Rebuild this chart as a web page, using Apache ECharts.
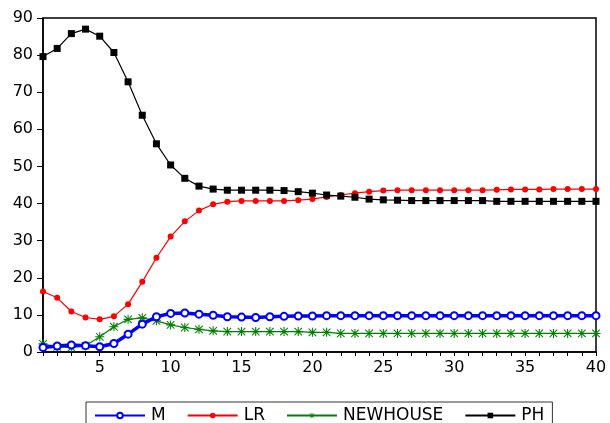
<!DOCTYPE html>
<html>
<head>
<meta charset="utf-8">
<script src="https://cdn.jsdelivr.net/npm/echarts@6/dist/echarts.min.js"></script>
<style>
html,body{margin:0;padding:0;background:#fff;}
#chart{width:610px;height:423px;}
</style>
</head>
<body>
<div id="chart"></div>
<script>
const periods = Array.from({length: 40}, (_, i) => String(i + 1));
const M = [1.2, 1.6, 1.9, 1.7, 1.4, 2.3, 4.8, 7.5, 9.5, 10.4, 10.5, 10.2, 9.9, 9.5, 9.4, 9.3, 9.5, 9.6, 9.7, 9.7,
  9.8, 9.8, 9.8, 9.8, 9.8, 9.8, 9.8, 9.8, 9.8, 9.8, 9.8, 9.8, 9.8, 9.8, 9.8, 9.8, 9.8, 9.8, 9.8, 9.8];
const LR = [16.3, 14.6, 10.9, 9.3, 8.8, 9.6, 12.9, 18.9, 25.4, 31.1, 35.2, 38.1, 39.8, 40.5, 40.7, 40.7, 40.7, 40.7, 40.9, 41.2,
  41.8, 42.3, 42.8, 43.2, 43.5, 43.6, 43.6, 43.6, 43.6, 43.6, 43.6, 43.6, 43.7, 43.8, 43.8, 43.8, 43.9, 43.9, 43.9, 43.9];
const NEWHOUSE = [2.2, 1.4, 1.2, 1.7, 4.1, 6.8, 8.8, 9.2, 8.4, 7.3, 6.6, 6.1, 5.7, 5.5, 5.5, 5.5, 5.5, 5.5, 5.5, 5.3,
  5.3, 5.0, 5.0, 5.0, 5.0, 5.0, 5.0, 5.0, 5.0, 5.0, 5.0, 5.0, 5.0, 5.0, 5.0, 5.0, 5.0, 5.0, 5.0, 5.0];
const PH = [79.6, 81.8, 85.8, 87.0, 85.1, 80.7, 72.8, 63.8, 56.1, 50.4, 46.8, 44.7, 43.9, 43.6, 43.6, 43.6, 43.6, 43.5, 43.2, 42.8,
  42.3, 42.0, 41.7, 41.2, 41.0, 40.9, 40.8, 40.8, 40.8, 40.8, 40.8, 40.8, 40.6, 40.6, 40.6, 40.6, 40.6, 40.6, 40.6, 40.6];
const yTicks = [0, 10, 20, 30, 40, 50, 60, 70, 80, 90];

const FONT = 'DejaVu Sans';
const asterisk = 'path://M4.4,0 L5.6,0 L5.6,10 L4.4,10 Z M0,4.4 L10,4.4 L10,5.6 L0,5.6 Z M1.2,0.4 L9.6,8.8 L8.8,9.6 L0.4,1.2 Z M8.8,0.4 L9.6,1.2 L1.2,9.6 L0.4,8.8 Z';

const chart = echarts.init(document.getElementById('chart'), null, {renderer: 'canvas'});
chart.setOption({
  animation: false,
  backgroundColor: '#fff',
  grid: {left: 43, right: 14, top: 18, bottom: 71, show: true, borderColor: '#000', borderWidth: 1.5, backgroundColor: 'transparent'},
  xAxis: {
    type: 'category',
    data: periods,
    boundaryGap: false,
    axisLine: {lineStyle: {color: '#000', width: 1.5}},
    axisTick: {show: true, interval: 0, length: 4, lineStyle: {color: '#000', width: 1}},
    axisLabel: {
      interval: (i, v) => Number(v) % 5 === 0,
      color: '#000', fontFamily: FONT, fontSize: 16, margin: 8
    },
    splitLine: {show: false}
  },
  yAxis: {
    type: 'value',
    min: yTicks[0], max: yTicks[yTicks.length - 1], interval: 10,
    axisLine: {show: true, lineStyle: {color: '#000', width: 1.5}},
    axisTick: {show: true, length: 6, lineStyle: {color: '#000', width: 1}},
    axisLabel: {color: '#000', fontFamily: FONT, fontSize: 16, margin: 10},
    splitLine: {show: false}
  },
  legend: {
    left: 86, top: 402,
    padding: [5, 8, 10, 8],
    borderColor: '#333', borderWidth: 1,
    itemWidth: 50, itemHeight: 7, itemGap: 21,
    textStyle: {color: '#000', fontFamily: FONT, fontSize: 17, padding: [0, 0, 0, 1]},
    data: ['M', 'LR', 'NEWHOUSE', 'PH']
  },
  series: [
    {name: 'M', type: 'line', data: M, symbol: 'emptyCircle', symbolSize: 7, showAllSymbol: true,
      lineStyle: {color: '#0000ff', width: 3.5}, itemStyle: {color: '#0000ff', borderWidth: 1.6}, z: 3},
    {name: 'LR', type: 'line', data: LR, symbol: 'circle', symbolSize: 6, showAllSymbol: true,
      lineStyle: {color: '#ff0000', width: 1.2}, itemStyle: {color: '#ff0000'}, z: 2},
    {name: 'NEWHOUSE', type: 'line', data: NEWHOUSE, symbol: asterisk, symbolSize: 9, showAllSymbol: true,
      lineStyle: {color: '#008000', width: 1.2}, itemStyle: {color: '#008000'}, z: 2},
    {name: 'PH', type: 'line', data: PH, symbol: 'rect', symbolSize: 7, showAllSymbol: true,
      lineStyle: {color: '#000', width: 1.2}, itemStyle: {color: '#000'}, z: 2}
  ]
});
</script>
</body>
</html>
